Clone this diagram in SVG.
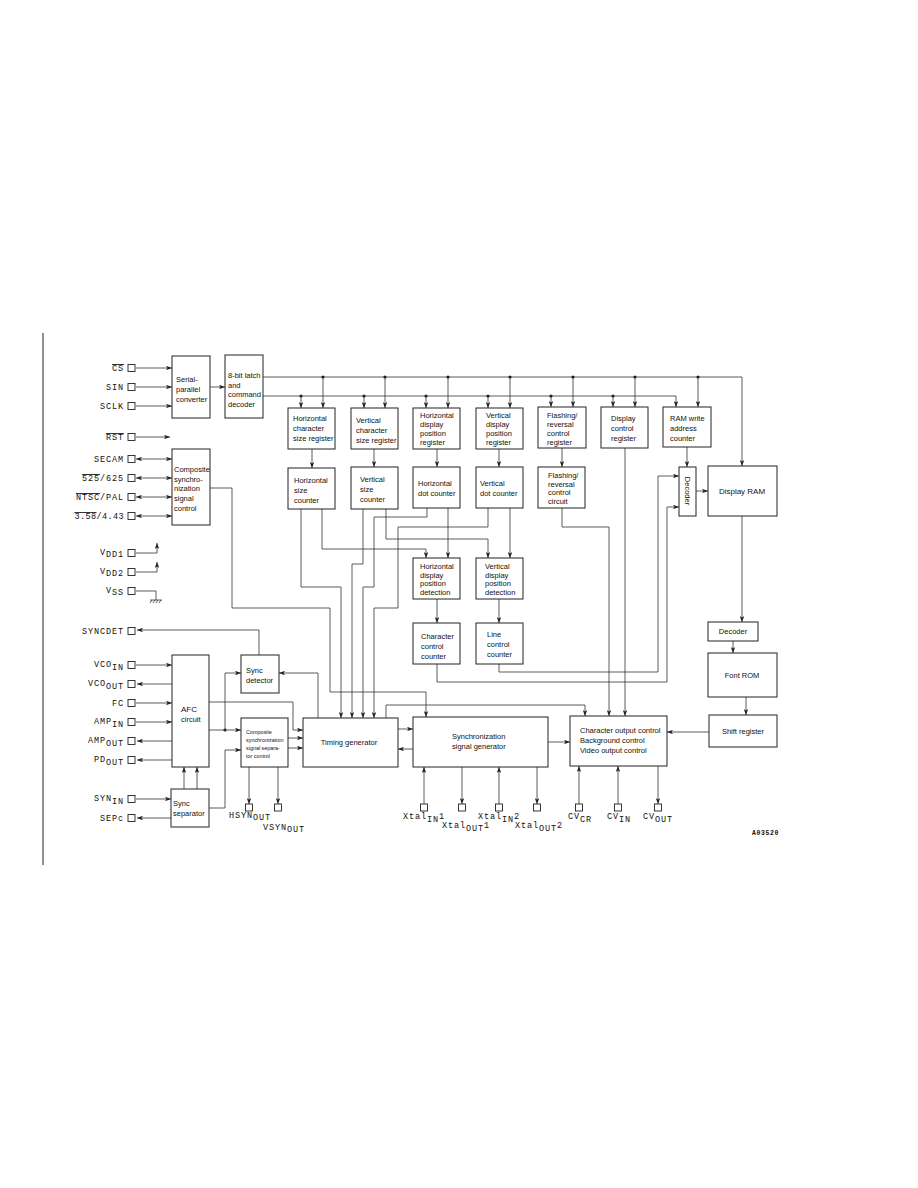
<svg xmlns="http://www.w3.org/2000/svg" width="918" height="1188" viewBox="0 0 918 1188">
<defs>
<style>
.b{fill:#fff;stroke:#222;stroke-width:1}
.w{fill:none;stroke:#333;stroke-width:0.8}
.a{marker-end:url(#ar)}
.d{marker-start:url(#ar);marker-end:url(#ar)}
.t{font-family:"Liberation Sans",Arial,sans-serif;font-size:7.5px;fill:#111}
.s{font-family:"Liberation Sans",Arial,sans-serif;font-size:5.4px;fill:#111}
.p{font-family:"Liberation Mono","DejaVu Sans Mono",monospace;font-size:8.5px;letter-spacing:0.9px;fill:#111}
.pin{fill:#fff;stroke:#222;stroke-width:0.9}
.ov{text-decoration:overline}
</style>
<marker id="ar" viewBox="0 0 8 6" refX="8" refY="3" markerWidth="6" markerHeight="4.5" orient="auto-start-reverse" markerUnits="userSpaceOnUse"><path d="M0,0 L8,3 L0,6 L2,3 z" fill="#222"/></marker>
</defs>
<rect width="918" height="1188" fill="#fff"/>
<line x1="43" y1="333" x2="43" y2="865" stroke="#222" stroke-width="1"/>

<g id="connectors">
<path class="w a" d="M136,368 H172"/>
<path class="w a" d="M136,387 H172"/>
<path class="w a" d="M136,406 H172"/>
<path class="w a" d="M136,437 H170"/>
<path class="w d" d="M136,459 H172"/>
<path class="w d" d="M136,478 H172"/>
<path class="w d" d="M136,497 H172"/>
<path class="w d" d="M136,516 H172"/>
<path class="w a" d="M136,553 H157 V543"/>
<path class="w a" d="M136,572 H157 V562"/>
<path class="w" d="M136,591 H156 V600 M150,600 H162 M152,600 l-2,3 M155,600 l-2,3 M158,600 l-2,3 M161,600 l-2,3"/>
<path class="w a" d="M259,655 V630 H137"/>
<path class="w a" d="M136,665 H172"/>
<path class="w a" d="M172,684 H137"/>
<path class="w a" d="M136,703 H172"/>
<path class="w a" d="M136,722 H172"/>
<path class="w a" d="M172,741 H137"/>
<path class="w a" d="M172,760 H137"/>
<path class="w a" d="M136,799 H171"/>
<path class="w a" d="M171,818 H137"/>
<path class="w a" d="M210,387 H225"/>
<path class="w a" d="M263,377 H742 V466"/>
<path class="w a" d="M263,396 H676 V407"/>
<path class="w a" d="M323,377 V408"/>
<path class="w a" d="M385,377 V408"/>
<path class="w a" d="M448,377 V408"/>
<path class="w a" d="M510,377 V408"/>
<path class="w a" d="M573,377 V407"/>
<path class="w a" d="M635,377 V407"/>
<path class="w a" d="M698,377 V407"/>
<path class="w a" d="M301,396 V408"/>
<path class="w a" d="M364,396 V408"/>
<path class="w a" d="M426,396 V408"/>
<path class="w a" d="M488,396 V408"/>
<path class="w a" d="M551,396 V407"/>
<path class="w a" d="M613,396 V407"/>
<g fill="#222">
<circle cx="323" cy="377" r="1.6"/><circle cx="385" cy="377" r="1.6"/><circle cx="448" cy="377" r="1.6"/><circle cx="510" cy="377" r="1.6"/><circle cx="573" cy="377" r="1.6"/><circle cx="635" cy="377" r="1.6"/><circle cx="698" cy="377" r="1.6"/>
<circle cx="301" cy="396" r="1.6"/><circle cx="364" cy="396" r="1.6"/><circle cx="426" cy="396" r="1.6"/><circle cx="488" cy="396" r="1.6"/><circle cx="551" cy="396" r="1.6"/><circle cx="613" cy="396" r="1.6"/>
<circle cx="225" cy="730" r="1.6"/>
</g>
<path class="w a" d="M312,449 V468"/>
<path class="w a" d="M374,449 V467"/>
<path class="w a" d="M437,449 V467"/>
<path class="w a" d="M499,449 V467"/>
<path class="w a" d="M562,448 V467"/>
<path class="w a" d="M687,447 V467"/>
<path class="w a" d="M625,448 V716"/>
<path class="w a" d="M562,508 V527 H609 V716"/>
<path class="w a" d="M301,509 V587 H341 V718"/>
<path class="w a" d="M322,509 V549 H426 V558"/>
<path class="w a" d="M363,509 V564 H352 V718"/>
<path class="w a" d="M386,509 V539 H488 V558"/>
<path class="w a" d="M427,508 V517 H374 V587 H363 V718"/>
<path class="w a" d="M448,508 V558"/>
<path class="w a" d="M488,508 V527 H398 V608 H374 V718"/>
<path class="w a" d="M510,508 V558"/>
<path class="w a" d="M437,599 V623"/>
<path class="w a" d="M499,599 V623"/>
<path class="w a" d="M499,664 V672 H658 V476 H679"/>
<path class="w a" d="M437,664 V682 H667 V507 H679"/>
<path class="w a" d="M696,491 H708"/>
<path class="w a" d="M742,516 V622"/>
<path class="w a" d="M733,641 V653"/>
<path class="w a" d="M746,697 V715"/>
<path class="w a" d="M709,732 H667"/>
<path class="w a" d="M548,742 H570"/>
<path class="w a" d="M398,729 H413"/>
<path class="w a" d="M413,749 H398"/>
<path class="w a" d="M386,718 V705 H585 V716"/>
<path class="w a" d="M210,488 H232 V608 H330 V692 H426 V717"/>
<path class="w a" d="M318,718 V673 H279"/>
<path class="w a" d="M209,702 H293 V730 H303"/>
<path class="w a" d="M209,730 H241"/>
<path class="w a" d="M225,730 V673 H241"/>
<path class="w a" d="M209,808 H225 V750 H241"/>
<path class="w a" d="M184,789 V767"/>
<path class="w a" d="M197,789 V767"/>
<path class="w a" d="M288,738 H303"/>
<path class="w a" d="M288,748 H303"/>
<path class="w a" d="M249,767 V804"/>
<path class="w a" d="M278,767 V804"/>
<path class="w a" d="M424,804 V767"/>
<path class="w a" d="M462,767 V804"/>
<path class="w a" d="M499,804 V767"/>
<path class="w a" d="M537,767 V804"/>
<path class="w a" d="M579,804 V766"/>
<path class="w a" d="M618,804 V766"/>
<path class="w a" d="M658,766 V804"/>
</g>

<g id="pins">
<rect class="pin" x="128" y="364.5" width="7" height="7"/>
<rect class="pin" x="128" y="383.5" width="7" height="7"/>
<rect class="pin" x="128" y="402.5" width="7" height="7"/>
<rect class="pin" x="128" y="433.5" width="7" height="7"/>
<rect class="pin" x="128" y="455.5" width="7" height="7"/>
<rect class="pin" x="128" y="474.5" width="7" height="7"/>
<rect class="pin" x="128" y="493.5" width="7" height="7"/>
<rect class="pin" x="128" y="512.5" width="7" height="7"/>
<rect class="pin" x="128" y="549.5" width="7" height="7"/>
<rect class="pin" x="128" y="568.5" width="7" height="7"/>
<rect class="pin" x="128" y="587.5" width="7" height="7"/>
<rect class="pin" x="128" y="627.5" width="7" height="7"/>
<rect class="pin" x="128" y="661.5" width="7" height="7"/>
<rect class="pin" x="128" y="680.5" width="7" height="7"/>
<rect class="pin" x="128" y="699.5" width="7" height="7"/>
<rect class="pin" x="128" y="718.5" width="7" height="7"/>
<rect class="pin" x="128" y="737.5" width="7" height="7"/>
<rect class="pin" x="128" y="756.5" width="7" height="7"/>
<rect class="pin" x="128" y="795.5" width="7" height="7"/>
<rect class="pin" x="128" y="814.5" width="7" height="7"/>
<rect class="pin" x="245.5" y="804" width="7" height="7"/>
<rect class="pin" x="274.5" y="804" width="7" height="7"/>
<rect class="pin" x="420.5" y="804" width="7" height="7"/>
<rect class="pin" x="458.5" y="804" width="7" height="7"/>
<rect class="pin" x="495.5" y="804" width="7" height="7"/>
<rect class="pin" x="533.5" y="804" width="7" height="7"/>
<rect class="pin" x="575.5" y="804" width="7" height="7"/>
<rect class="pin" x="614.5" y="804" width="7" height="7"/>
<rect class="pin" x="654.5" y="804" width="7" height="7"/>
<g text-anchor="end">
<text class="p" x="124" y="371"><tspan class="ov">CS</tspan></text>
<text class="p" x="124" y="390">SIN</text>
<text class="p" x="124" y="409">SCLK</text>
<text class="p" x="124" y="440"><tspan class="ov">RST</tspan></text>
<text class="p" x="124" y="462">SECAM</text>
<text class="p" x="124" y="481"><tspan class="ov">525</tspan>/625</text>
<text class="p" x="124" y="500"><tspan class="ov">NTSC</tspan>/PAL</text>
<text class="p" x="124" y="519" style="letter-spacing:0.4px"><tspan class="ov">3.58</tspan>/4.43</text>
<text class="p" x="124" y="555">V<tspan dy="1.5">DD1</tspan></text>
<text class="p" x="124" y="574">V<tspan dy="1.5">DD2</tspan></text>
<text class="p" x="124" y="593">V<tspan dy="1.5">SS</tspan></text>
<text class="p" x="124" y="634">SYNCDET</text>
<text class="p" x="124" y="667">VCO<tspan dy="2.5">IN</tspan></text>
<text class="p" x="124" y="686">VCO<tspan dy="2.5">OUT</tspan></text>
<text class="p" x="124" y="706">FC</text>
<text class="p" x="124" y="724">AMP<tspan dy="2.5">IN</tspan></text>
<text class="p" x="124" y="743">AMP<tspan dy="2.5">OUT</tspan></text>
<text class="p" x="124" y="762">PD<tspan dy="2.5">OUT</tspan></text>
<text class="p" x="124" y="801">SYN<tspan dy="2.5">IN</tspan></text>
<text class="p" x="124" y="821">SEPc</text>
</g>
<text class="p" x="229" y="818">HSYN<tspan dy="2">OUT</tspan></text>
<text class="p" x="263" y="830">VSYN<tspan dy="2">OUT</tspan></text>
<text class="p" x="403" y="819">Xtal<tspan dy="2.5">IN</tspan><tspan dy="-2.5">1</tspan></text>
<text class="p" x="442" y="828">Xtal<tspan dy="2.5">OUT</tspan><tspan dy="-2.5">1</tspan></text>
<text class="p" x="478" y="819">Xtal<tspan dy="2.5">IN</tspan><tspan dy="-2.5">2</tspan></text>
<text class="p" x="515" y="828">Xtal<tspan dy="2.5">OUT</tspan><tspan dy="-2.5">2</tspan></text>
<text class="p" x="568" y="819">CV<tspan dy="2.5">CR</tspan></text>
<text class="p" x="607" y="819">CV<tspan dy="2.5">IN</tspan></text>
<text class="p" x="643" y="819">CV<tspan dy="2.5">OUT</tspan></text>
<text class="p" x="752" y="835" style="font-size:6.5px;letter-spacing:0.6px;font-weight:bold">A03520</text>
</g>

<g id="serial-parallel"><rect class="b" x="172" y="356" width="38" height="62"/><text class="t" x="176" y="382">Serial-<tspan x="176" dy="10">parallel</tspan><tspan x="176" dy="10">converter</tspan></text></g>
<g id="latch"><rect class="b" x="225" y="355" width="38" height="63"/><text class="t" x="228" y="378">8-bit latch<tspan x="228" dy="9.7">and</tspan><tspan x="228" dy="9.7">command</tspan><tspan x="228" dy="9.7">decoder</tspan></text></g>
<g id="comp-sync-ctrl"><rect class="b" x="172" y="449" width="38" height="76"/><text class="t" x="174" y="472">Composite<tspan x="174" dy="9.7">synchro-</tspan><tspan x="174" dy="9.7">nization</tspan><tspan x="174" dy="9.7">signal</tspan><tspan x="174" dy="9.7">control</tspan></text></g>
<g id="hcsr"><rect class="b" x="288" y="408" width="47" height="41"/><text class="t" x="293" y="421">Horizontal<tspan x="293" dy="10">character</tspan><tspan x="293" dy="10">size register</tspan></text></g>
<g id="vcsr"><rect class="b" x="351" y="408" width="47" height="41"/><text class="t" x="356" y="423">Vertical<tspan x="356" dy="10">character</tspan><tspan x="356" dy="10">size register</tspan></text></g>
<g id="hdpr"><rect class="b" x="413" y="408" width="47" height="41"/><text class="t" x="420" y="418">Horizontal<tspan x="420" dy="9">display</tspan><tspan x="420" dy="9">position</tspan><tspan x="420" dy="9">register</tspan></text></g>
<g id="vdpr"><rect class="b" x="476" y="408" width="47" height="41"/><text class="t" x="486" y="418">Vertical<tspan x="486" dy="9">display</tspan><tspan x="486" dy="9">position</tspan><tspan x="486" dy="9">register</tspan></text></g>
<g id="frcr"><rect class="b" x="538" y="407" width="48" height="41"/><text class="t" x="547" y="418">Flashing/<tspan x="547" dy="9">reversal</tspan><tspan x="547" dy="9">control</tspan><tspan x="547" dy="9">register</tspan></text></g>
<g id="dcr"><rect class="b" x="601" y="407" width="47" height="41"/><text class="t" x="611" y="421">Display<tspan x="611" dy="10">control</tspan><tspan x="611" dy="10">register</tspan></text></g>
<g id="ramwac"><rect class="b" x="663" y="407" width="48" height="40"/><text class="t" x="670" y="421">RAM write<tspan x="670" dy="10">address</tspan><tspan x="670" dy="10">counter</tspan></text></g>
<g id="hsc"><rect class="b" x="288" y="468" width="47" height="41"/><text class="t" x="294" y="483">Horizontal<tspan x="294" dy="10">size</tspan><tspan x="294" dy="10">counter</tspan></text></g>
<g id="vsc"><rect class="b" x="351" y="467" width="47" height="42"/><text class="t" x="360" y="482">Vertical<tspan x="360" dy="10">size</tspan><tspan x="360" dy="10">counter</tspan></text></g>
<g id="hdc"><rect class="b" x="413" y="467" width="47" height="41"/><text class="t" x="418" y="486">Horizontal<tspan x="418" dy="10">dot counter</tspan></text></g>
<g id="vdc"><rect class="b" x="476" y="467" width="47" height="41"/><text class="t" x="480" y="486">Vertical<tspan x="480" dy="10">dot counter</tspan></text></g>
<g id="frcc"><rect class="b" x="538" y="467" width="47" height="41"/><text class="t" x="548" y="478">Flashing/<tspan x="548" dy="8.7">reversal</tspan><tspan x="548" dy="8.7">control</tspan><tspan x="548" dy="8.7">circuit</tspan></text></g>
<g id="decoder1"><rect class="b" x="679" y="467" width="17" height="49"/><text class="t" transform="translate(684.5,491) rotate(90)" text-anchor="middle">Decoder</text></g>
<g id="display-ram"><rect class="b" x="708" y="466" width="69" height="50"/><text class="t" x="742" y="494" text-anchor="middle" style="font-size:8px">Display RAM</text></g>
<g id="hdpd"><rect class="b" x="413" y="558" width="47" height="41"/><text class="t" x="420" y="569">Horizontal<tspan x="420" dy="8.7">display</tspan><tspan x="420" dy="8.7">position</tspan><tspan x="420" dy="8.7">detection</tspan></text></g>
<g id="vdpd"><rect class="b" x="476" y="558" width="47" height="41"/><text class="t" x="485" y="569">Vertical<tspan x="485" dy="8.7">display</tspan><tspan x="485" dy="8.7">position</tspan><tspan x="485" dy="8.7">detection</tspan></text></g>
<g id="ccc"><rect class="b" x="413" y="623" width="47" height="41"/><text class="t" x="421" y="639">Character<tspan x="421" dy="10">control</tspan><tspan x="421" dy="10">counter</tspan></text></g>
<g id="lcc"><rect class="b" x="476" y="623" width="47" height="41"/><text class="t" x="487" y="637">Line<tspan x="487" dy="10">control</tspan><tspan x="487" dy="10">counter</tspan></text></g>
<g id="decoder2"><rect class="b" x="708" y="622" width="50" height="19"/><text class="t" x="733" y="634" text-anchor="middle">Decoder</text></g>
<g id="font-rom"><rect class="b" x="708" y="653" width="69" height="44"/><text class="t" x="742" y="678" text-anchor="middle">Font ROM</text></g>
<g id="shift-register"><rect class="b" x="709" y="715" width="68" height="32"/><text class="t" x="743" y="734" text-anchor="middle">Shift register</text></g>
<g id="afc"><rect class="b" x="172" y="655" width="37" height="112"/><text class="t" x="181" y="712" style="font-size:8px">AFC<tspan x="181" dy="10" style="font-size:7.5px">circuit</tspan></text></g>
<g id="sync-detector"><rect class="b" x="241" y="655" width="38" height="38"/><text class="t" x="246" y="673">Sync<tspan x="246" dy="10">detector</tspan></text></g>
<g id="cssc"><rect class="b" x="241" y="718" width="47" height="49"/><text class="s" x="246" y="734">Composite<tspan x="246" dy="8">synchronization</tspan><tspan x="246" dy="8">signal separa-</tspan><tspan x="246" dy="8">tor control</tspan></text></g>
<g id="timing-generator"><rect class="b" x="303" y="718" width="95" height="49"/><text class="t" x="349" y="745" text-anchor="middle">Timing generator</text></g>
<g id="sync-signal-generator"><rect class="b" x="413" y="717" width="135" height="50"/><text class="t" x="452" y="739">Synchronization<tspan x="452" dy="10">signal generator</tspan></text></g>
<g id="char-output-control"><rect class="b" x="570" y="716" width="97" height="50"/><text class="t" x="580" y="733">Character output control<tspan x="580" dy="10">Background control</tspan><tspan x="580" dy="10">Video output control</tspan></text></g>
<g id="sync-separator"><rect class="b" x="171" y="789" width="38" height="38"/><text class="t" x="173" y="806">Sync<tspan x="173" dy="10">separator</tspan></text></g>
</svg>
